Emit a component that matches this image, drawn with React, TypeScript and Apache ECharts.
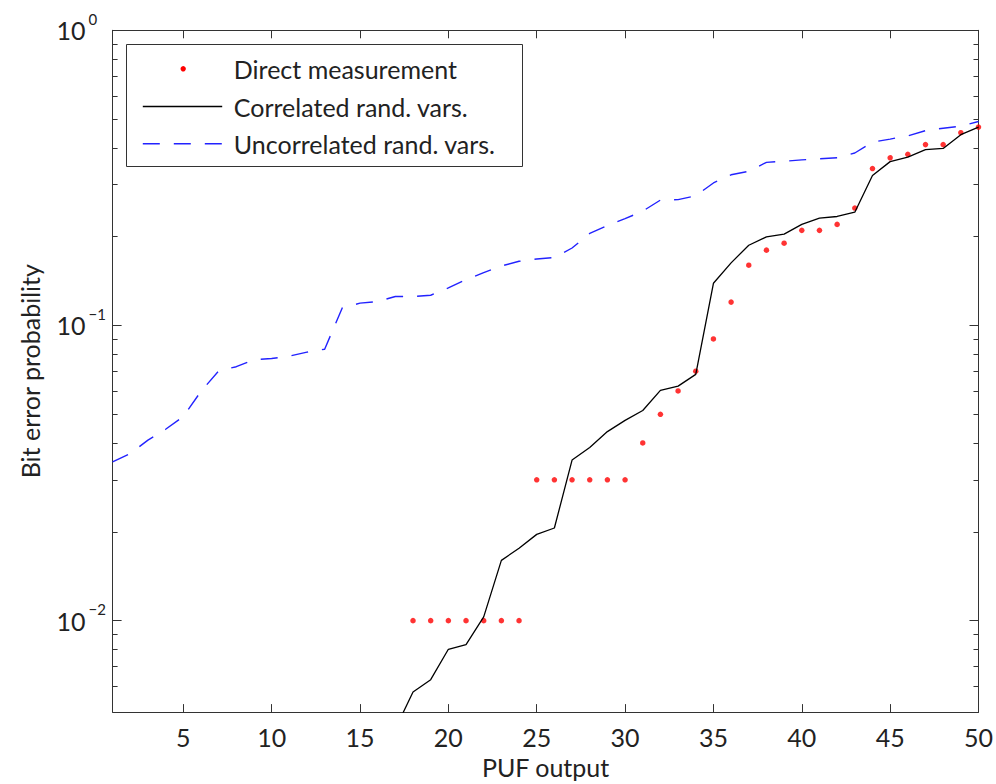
import React, { useEffect, useRef } from "react";
import * as echarts from "echarts";

const FONT = "Lato, 'Open Sans', sans-serif";
const TEXT_COLOR = "#222";
const AXIS_COLOR = "#333";

// Data
const directX = [18, 19, 20, 21, 22, 23, 24, 25, 26, 27, 28, 29, 30, 31, 32, 33, 34, 35, 36, 37, 38, 39, 40, 41, 42, 43, 44, 45, 46, 47, 48, 49, 50];
const directY = [0.01, 0.01, 0.01, 0.01, 0.01, 0.01, 0.01, 0.03, 0.03, 0.03, 0.03, 0.03, 0.03, 0.04, 0.05, 0.06, 0.07, 0.09, 0.12, 0.16, 0.18, 0.19, 0.21, 0.21, 0.22, 0.25, 0.34, 0.37, 0.38, 0.41, 0.41, 0.45, 0.47];

const corrX = [17, 18, 19, 20, 21, 22, 23, 24, 25, 26, 27, 28, 29, 30, 31, 32, 33, 34, 35, 36, 37, 38, 39, 40, 41, 42, 43, 44, 45, 46, 47, 48, 49, 50];
const corrY = [0.0043, 0.00573, 0.00631, 0.008, 0.0083, 0.0103, 0.016, 0.0176, 0.0196, 0.0206, 0.035, 0.0386, 0.0437, 0.0477, 0.0515, 0.0603, 0.0623, 0.0683, 0.139, 0.163, 0.187, 0.1995, 0.204, 0.22, 0.231, 0.234, 0.242, 0.322, 0.359, 0.372, 0.394, 0.398, 0.443, 0.47];

const uncorrX = [1, 2, 3, 4, 5, 6, 7, 8, 9, 10, 11, 12, 13, 14, 15, 16, 17, 18, 19, 20, 21, 22, 23, 24, 25, 26, 27, 28, 29, 30, 31, 32, 33, 34, 35, 36, 37, 38, 39, 40, 41, 42, 43, 44, 45, 46, 47, 48, 49, 50];
const uncorrY = [0.0345, 0.0368, 0.0409, 0.0445, 0.0491, 0.0598, 0.0701, 0.0725, 0.0766, 0.0773, 0.0787, 0.0812, 0.0831, 0.1148, 0.119, 0.1205, 0.1254, 0.1254, 0.1266, 0.134, 0.143, 0.151, 0.159, 0.165, 0.168, 0.17, 0.183, 0.205, 0.218, 0.23, 0.244, 0.266, 0.267, 0.275, 0.304, 0.324, 0.333, 0.357, 0.36, 0.364, 0.367, 0.37, 0.384, 0.418, 0.428, 0.439, 0.457, 0.466, 0.473, 0.491];

const xTicks = [5, 10, 15, 20, 25, 30, 35, 40, 45, 50];
const yMajorTicks = [0.01, 0.1, 1];
const yMinorTicks = [0.006, 0.007, 0.008, 0.009, 0.02, 0.03, 0.04, 0.05, 0.06, 0.07, 0.08, 0.09, 0.2, 0.3, 0.4, 0.5, 0.6, 0.7, 0.8, 0.9];

const legendNames = ["Direct measurement", "Correlated rand. vars.", "Uncorrelated rand. vars."];

const zip = (xs: number[], ys: number[]) => xs.map((x, i) => [x, ys[i]]);

export default function App() {
  const ref = useRef<HTMLDivElement>(null);
  useEffect(() => {
    if (!ref.current) return;
    const chart = echarts.init(ref.current, null, { renderer: "svg" });
    const Y_MIN = 0.0049;
    const Y_MAX = 1;
    const baseY = (pos: "left" | "right", ticks: number[], len: number, labels: boolean, line: boolean) => ({
      type: "log",
      logBase: 10,
      min: Y_MIN,
      max: Y_MAX,
      position: pos,
      splitLine: { show: false },
      axisLine: { show: line, onZero: false, lineStyle: { color: AXIS_COLOR, width: 1 } },
      axisTick: { show: true, inside: true, length: len, customValues: ticks, lineStyle: { color: AXIS_COLOR, width: 1 } },
      axisLabel: labels
        ? {
            show: true,
            customValues: yMajorTicks,
            align: "left",
            margin: 56,
            formatter: (v: number) => {
              const e = Math.round(Math.log10(v));
              const sup = e === 0 ? "0" : "\u2212" + String(-e);
              return "{b|10}{s|" + sup + "}";
            },
            rich: {
              b: { fontSize: 25, fontFamily: FONT, color: TEXT_COLOR, lineHeight: 38 },
              s: { fontSize: 15, fontFamily: FONT, color: TEXT_COLOR, verticalAlign: "top", lineHeight: 15, padding: [0, 0, 0, 3] },
            },
          }
        : { show: false },
    });
    const option: any = {
      animation: false,
      backgroundColor: "#fff",
      grid: { left: 112.6, right: 14.5, top: 30.3, bottom: 71.3, containLabel: false },
      xAxis: [
        {
          type: "value",
          min: 1,
          max: 50,
          position: "bottom",
          splitLine: { show: false },
          axisLine: { show: true, onZero: false, lineStyle: { color: AXIS_COLOR, width: 1 } },
          axisTick: { show: true, inside: true, length: 8, customValues: xTicks, lineStyle: { color: AXIS_COLOR, width: 1 } },
          axisLabel: { show: true, customValues: xTicks, margin: 12, fontSize: 25, fontFamily: FONT, color: TEXT_COLOR },
          name: "PUF output",
          nameLocation: "middle",
          nameGap: 41,
          nameTextStyle: { fontSize: 25, fontFamily: FONT, color: TEXT_COLOR },
        },
        {
          type: "value",
          min: 1,
          max: 50,
          position: "top",
          splitLine: { show: false },
          axisLine: { show: true, onZero: false, lineStyle: { color: AXIS_COLOR, width: 1 } },
          axisTick: { show: true, inside: true, length: 8, customValues: xTicks, lineStyle: { color: AXIS_COLOR, width: 1 } },
          axisLabel: { show: false },
        },
      ],
      yAxis: [
        {
          ...baseY("left", yMajorTicks, 9, true, true),
          name: "Bit error probability",
          nameLocation: "middle",
          nameRotate: 90,
          nameGap: 70,
          nameTextStyle: { fontSize: 25, fontFamily: FONT, color: TEXT_COLOR },
        },
        baseY("left", yMinorTicks, 5, false, false),
        baseY("right", yMajorTicks, 9, false, true),
        baseY("right", yMinorTicks, 5, false, false),
      ],
      series: [
        {
          name: legendNames[0],
          type: "scatter",
          xAxisIndex: 0,
          yAxisIndex: 0,
          symbol: "circle",
          symbolSize: 5.5,
          itemStyle: { color: "#ff0000" },
          data: zip(directX, directY),
          z: 2,
        },
        {
          name: legendNames[1],
          type: "line",
          xAxisIndex: 0,
          yAxisIndex: 0,
          showSymbol: false,
          symbol: "none",
          lineStyle: { color: "#000", width: 1.3 },
          data: zip(corrX, corrY),
          z: 3,
        },
        {
          name: legendNames[2],
          type: "line",
          xAxisIndex: 0,
          yAxisIndex: 0,
          showSymbol: false,
          symbol: "none",
          lineStyle: { color: "#2222ff", width: 1.4, type: [17, 14] },
          data: zip(uncorrX, uncorrY),
          z: 4,
        },
      ],
      graphic: [
        {
          type: "group",
          left: 126,
          top: 44,
          z: 100,
          children: [
            { type: "rect", shape: { x: 0, y: 0, width: 396, height: 122 }, style: { fill: "#fff", stroke: AXIS_COLOR, lineWidth: 1 } },
            { type: "circle", shape: { cx: 56.7, cy: 24.3, r: 2.7 }, style: { fill: "#ff0000" } },
            { type: "line", shape: { x1: 16.3, y1: 62, x2: 95.7, y2: 62 }, style: { stroke: "#000", lineWidth: 1.3 } },
            { type: "line", shape: { x1: 16.3, y1: 99.3, x2: 95.7, y2: 99.3 }, style: { stroke: "#2222ff", lineWidth: 1.4, lineDash: [17, 14] } },
            { type: "text", x: 107.3, y: 24.3, style: { text: legendNames[0], font: "25px " + FONT, fill: TEXT_COLOR, verticalAlign: "middle" } },
            { type: "text", x: 107.3, y: 62, style: { text: legendNames[1], font: "25px " + FONT, fill: TEXT_COLOR, verticalAlign: "middle" } },
            { type: "text", x: 107.3, y: 99.3, style: { text: legendNames[2], font: "25px " + FONT, fill: TEXT_COLOR, verticalAlign: "middle" } },
          ],
        },
      ],
    };
    chart.setOption(option);
    return () => chart.dispose();
  }, []);
  return <div ref={ref} style={{ position: "fixed", left: 0, top: 0, width: 996, height: 784, background: "#fff" }} />;
}
